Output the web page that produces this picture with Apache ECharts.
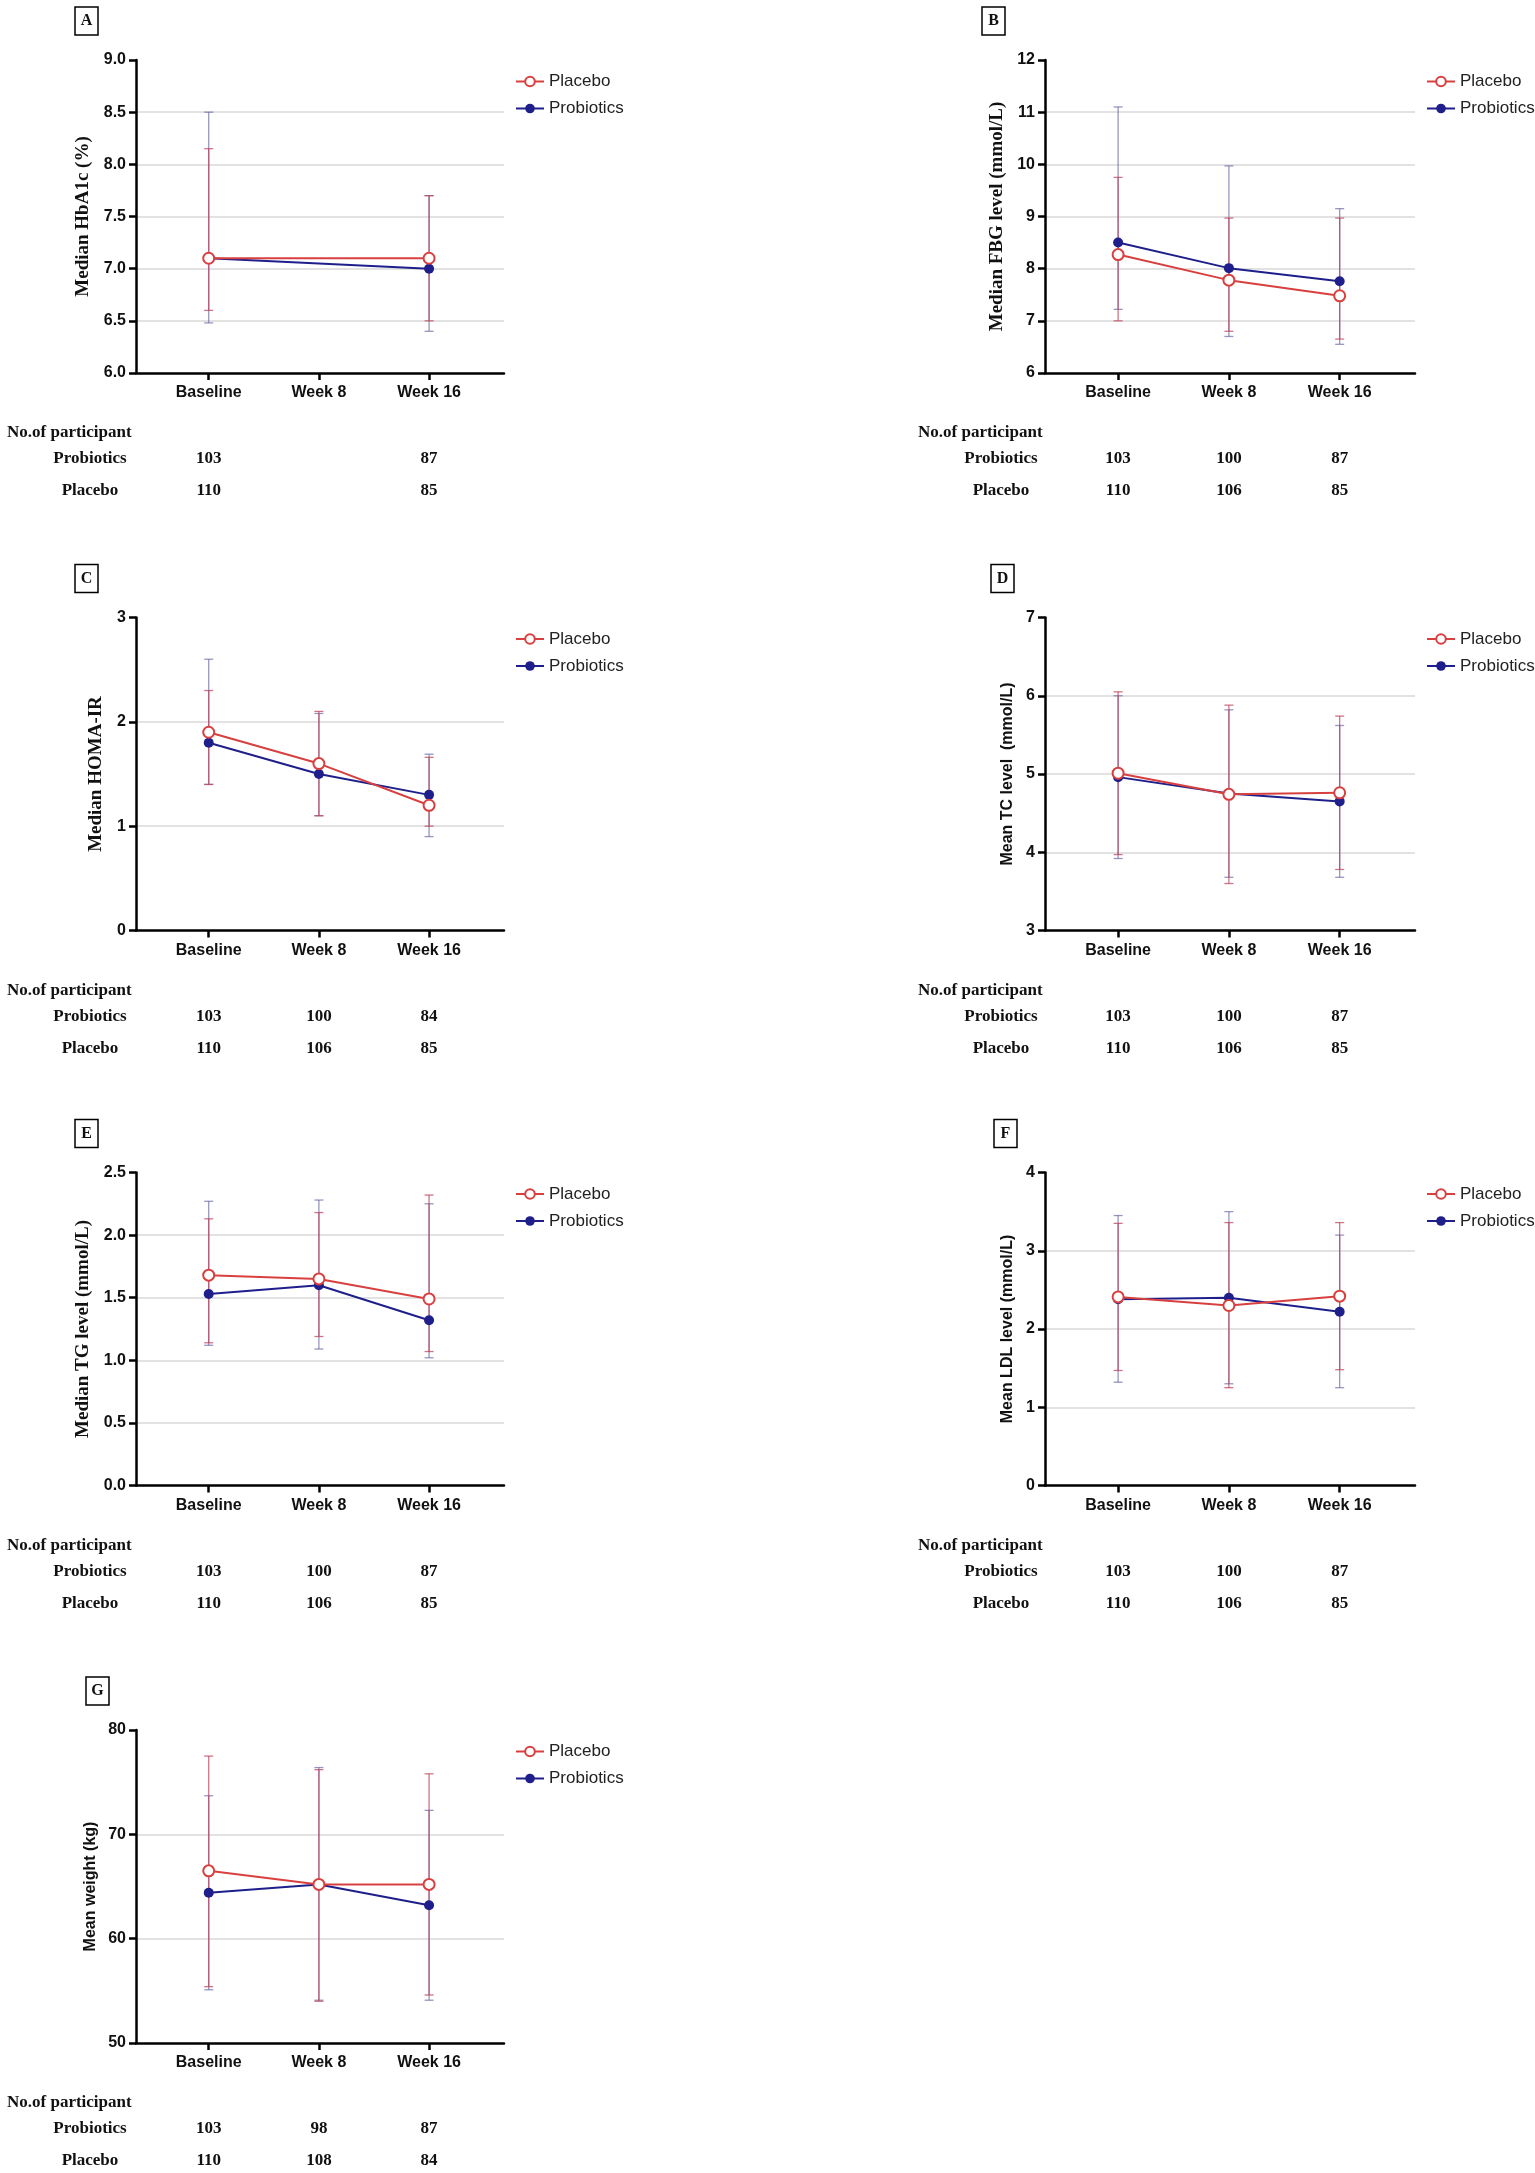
<!DOCTYPE html>
<html><head><meta charset="utf-8">
<script src="https://cdn.jsdelivr.net/npm/echarts@6/dist/echarts.min.js"></script>
<style>html,body{margin:0;padding:0;background:#fff}#c{width:1535px;height:2173px}</style>
</head><body><div id="c"></div>
<script>
// ---------- DATA ----------
const categories = ['Baseline', 'Week 8', 'Week 16'];
const groupNames = ['Placebo', 'Probiotics'];
const panelLetters = ['A', 'B', 'C', 'D', 'E', 'F', 'G'];
const yTitles = ['Median HbA1c (%)', 'Median FBG level (mmol/L)', 'Median HOMA-IR', 'Mean TC level  (mmol/L)',
  'Median TG level (mmol/L)', 'Mean LDL level (mmol/L)', 'Mean weight (kg)'];
const yMins = [6, 6, 0, 3, 0, 0, 50];
const yMaxs = [9, 12, 3, 7, 2.5, 4, 80];
const yIntervals = [0.5, 1, 1, 1, 0.5, 1, 10];
const yDecimals = [1, 0, 0, 0, 1, 0, 0];

// A: HbA1c
const hba1cPlacebo = [7.1, null, 7.1];
const hba1cProbiotics = [7.1, null, 7.0];
const hba1cPlaceboLow = [6.6, null, 6.5];
const hba1cPlaceboHigh = [8.15, null, 7.7];
const hba1cProbioticsLow = [6.48, null, 6.4];
const hba1cProbioticsHigh = [8.5, null, 7.7];
const hba1cNProbiotics = [103, null, 87];
const hba1cNPlacebo = [110, null, 85];
// B: FBG
const fbgPlacebo = [8.27, 7.78, 7.48];
const fbgProbiotics = [8.5, 8.01, 7.76];
const fbgPlaceboLow = [7.0, 6.8, 6.65];
const fbgPlaceboHigh = [9.75, 8.97, 8.97];
const fbgProbioticsLow = [7.22, 6.7, 6.55];
const fbgProbioticsHigh = [11.1, 9.97, 9.15];
const fbgNProbiotics = [103, 100, 87];
const fbgNPlacebo = [110, 106, 85];
// C: HOMA-IR
const homaPlacebo = [1.9, 1.6, 1.2];
const homaProbiotics = [1.8, 1.5, 1.3];
const homaPlaceboLow = [1.4, 1.1, 1.0];
const homaPlaceboHigh = [2.3, 2.1, 1.66];
const homaProbioticsLow = [1.4, 1.1, 0.9];
const homaProbioticsHigh = [2.6, 2.08, 1.69];
const homaNProbiotics = [103, 100, 84];
const homaNPlacebo = [110, 106, 85];
// D: TC
const tcPlacebo = [5.01, 4.74, 4.76];
const tcProbiotics = [4.96, 4.75, 4.65];
const tcPlaceboLow = [3.97, 3.60, 3.78];
const tcPlaceboHigh = [6.05, 5.88, 5.74];
const tcProbioticsLow = [3.92, 3.68, 3.68];
const tcProbioticsHigh = [6.0, 5.82, 5.62];
const tcNProbiotics = [103, 100, 87];
const tcNPlacebo = [110, 106, 85];
// E: TG
const tgPlacebo = [1.68, 1.65, 1.49];
const tgProbiotics = [1.53, 1.60, 1.32];
const tgPlaceboLow = [1.14, 1.19, 1.07];
const tgPlaceboHigh = [2.13, 2.18, 2.32];
const tgProbioticsLow = [1.12, 1.09, 1.02];
const tgProbioticsHigh = [2.27, 2.28, 2.25];
const tgNProbiotics = [103, 100, 87];
const tgNPlacebo = [110, 106, 85];
// F: LDL
const ldlPlacebo = [2.41, 2.30, 2.42];
const ldlProbiotics = [2.38, 2.40, 2.22];
const ldlPlaceboLow = [1.47, 1.25, 1.48];
const ldlPlaceboHigh = [3.35, 3.36, 3.36];
const ldlProbioticsLow = [1.32, 1.30, 1.25];
const ldlProbioticsHigh = [3.45, 3.50, 3.20];
const ldlNProbiotics = [103, 100, 87];
const ldlNPlacebo = [110, 106, 85];
// G: weight
const weightPlacebo = [66.5, 65.2, 65.2];
const weightProbiotics = [64.4, 65.2, 63.2];
const weightPlaceboLow = [55.4, 54.0, 54.6];
const weightPlaceboHigh = [77.5, 76.2, 75.8];
const weightProbioticsLow = [55.1, 54.1, 54.1];
const weightProbioticsHigh = [73.7, 76.4, 72.3];
const weightNProbiotics = [103, 98, 87];
const weightNPlacebo = [110, 108, 84];

const panelPlacebo = [hba1cPlacebo, fbgPlacebo, homaPlacebo, tcPlacebo, tgPlacebo, ldlPlacebo, weightPlacebo];
const panelProbiotics = [hba1cProbiotics, fbgProbiotics, homaProbiotics, tcProbiotics, tgProbiotics, ldlProbiotics, weightProbiotics];
const panelPlaceboLow = [hba1cPlaceboLow, fbgPlaceboLow, homaPlaceboLow, tcPlaceboLow, tgPlaceboLow, ldlPlaceboLow, weightPlaceboLow];
const panelPlaceboHigh = [hba1cPlaceboHigh, fbgPlaceboHigh, homaPlaceboHigh, tcPlaceboHigh, tgPlaceboHigh, ldlPlaceboHigh, weightPlaceboHigh];
const panelProbioticsLow = [hba1cProbioticsLow, fbgProbioticsLow, homaProbioticsLow, tcProbioticsLow, tgProbioticsLow, ldlProbioticsLow, weightProbioticsLow];
const panelProbioticsHigh = [hba1cProbioticsHigh, fbgProbioticsHigh, homaProbioticsHigh, tcProbioticsHigh, tgProbioticsHigh, ldlProbioticsHigh, weightProbioticsHigh];
const panelNProbiotics = [hba1cNProbiotics, fbgNProbiotics, homaNProbiotics, tcNProbiotics, tgNProbiotics, ldlNProbiotics, weightNProbiotics];
const panelNPlacebo = [hba1cNPlacebo, fbgNPlacebo, homaNPlacebo, tcNPlacebo, tgNPlacebo, ldlNPlacebo, weightNPlacebo];

// ---------- LAYOUT / STYLE ----------
const panelCol = [0, 1, 0, 1, 0, 1, 0];
const panelRow = [0, 0, 1, 1, 2, 2, 3];
const colLeft = [136, 1045];
const colWidth = [368, 370];
const rowTop = [60, 617.5, 1172.5, 1730];
const gridH = 313;
const titleSerif = [true, true, true, false, true, false, false];
const titleGap = [43, 38, 30, 29, 43, 29, 37];
const letterBoxX = [75, 982, 75, 991, 75, 994, 86];
const legendLeft = [510, 1421];
const tableLabelLeft = [7, 918];
const tableLabelCenter = [90, 1001];

const RED = '#d8403f';
const NAVY = '#1f1f8c';
const RED_ERR = 'rgba(190,70,95,0.75)';
const BLUE_ERR = 'rgba(105,105,165,0.7)';
const SERIF = '"Liberation Serif", "Times New Roman", serif';
const SANS = '"Liberation Sans", Arial, sans-serif';

function pts(arr) {
  const out = [];
  arr.forEach((v, i) => { if (v !== null) out.push([i, v]); });
  return out;
}
function errPts(lo, hi) {
  const out = [];
  lo.forEach((v, i) => { if (v !== null && hi[i] !== null) out.push([i, v, hi[i]]); });
  return out;
}
function errRender(color) {
  return function (params, api) {
    const x = api.value(0);
    const a = api.coord([x, api.value(1)]);
    const b = api.coord([x, api.value(2)]);
    const w = 4.5;
    const st = { stroke: color, lineWidth: 1.3 };
    return {
      type: 'group', children: [
        { type: 'line', shape: { x1: a[0], y1: a[1], x2: b[0], y2: b[1] }, style: st },
        { type: 'line', shape: { x1: a[0] - w, y1: a[1], x2: a[0] + w, y2: a[1] }, style: st },
        { type: 'line', shape: { x1: b[0] - w, y1: b[1], x2: b[0] + w, y2: b[1] }, style: st }
      ]
    };
  };
}
function countRender(yMin) {
  return function (params, api) {
    const p = api.coord([api.value(0), yMin]);
    const off = api.value(1) === 0 ? 86 : 118;
    return {
      type: 'text', x: p[0], y: p[1] + off,
      style: { text: String(api.value(2)), textAlign: 'center', textVerticalAlign: 'middle',
        font: 'bold 17px ' + SERIF, fill: '#111' }
    };
  };
}

const grids = [], xAxes = [], yAxes = [], series = [], legends = [], graphics = [];
for (let i = 0; i < 7; i++) {
  const c = panelCol[i], r = panelRow[i];
  const top = rowTop[r];
  grids.push({ left: colLeft[c], top: top, width: colWidth[c], height: gridH });
  xAxes.push({
    gridIndex: i, type: 'value', min: -0.66, max: 2.68,
    axisLine: { show: true, onZero: false, lineStyle: { color: '#000', width: 2.5 } },
    axisTick: { show: true, customValues: [0, 1, 2], length: 7, lineStyle: { color: '#000', width: 2.5 } },
    axisLabel: { customValues: [0, 1, 2], formatter: v => categories[Math.round(v)], margin: 12,
      fontFamily: SANS, fontWeight: 'bold', fontSize: 16, color: '#111' },
    splitLine: { show: false }
  });
  const dec = yDecimals[i];
  yAxes.push({
    gridIndex: i, type: 'value', min: yMins[i], max: yMaxs[i], interval: yIntervals[i],
    axisLine: { show: true, onZero: false, lineStyle: { color: '#000', width: 2.5 } },
    axisTick: { show: true, length: 7, lineStyle: { color: '#000', width: 2.5 } },
    axisLabel: { formatter: v => v.toFixed(dec), margin: 10, fontFamily: SANS, fontWeight: 'bold', fontSize: 16, color: '#111' },
    splitLine: { show: true, showMinLine: false, showMaxLine: false, lineStyle: { color: '#d9d9d9', width: 1.6 } },
    name: yTitles[i], nameLocation: 'middle', nameRotate: 90, nameGap: titleGap[i],
    nameTextStyle: titleSerif[i]
      ? { fontFamily: SERIF, fontWeight: 'bold', fontSize: 19, color: '#111' }
      : { fontFamily: SANS, fontWeight: 'bold', fontSize: 16, color: '#111' }
  });
  // error bars
  series.push({
    type: 'custom', xAxisIndex: i, yAxisIndex: i, z: 2,
    data: errPts(panelProbioticsLow[i], panelProbioticsHigh[i]), encode: { x: 0, y: [1, 2] },
    renderItem: errRender(BLUE_ERR), silent: true
  });
  series.push({
    type: 'custom', xAxisIndex: i, yAxisIndex: i, z: 3,
    data: errPts(panelPlaceboLow[i], panelPlaceboHigh[i]), encode: { x: 0, y: [1, 2] },
    renderItem: errRender(RED_ERR), silent: true
  });
  // lines
  series.push({
    type: 'line', name: groupNames[1], xAxisIndex: i, yAxisIndex: i, z: 4,
    data: pts(panelProbiotics[i]), symbol: 'circle', symbolSize: 10,
    lineStyle: { color: NAVY, width: 2 }, itemStyle: { color: NAVY }, animation: false
  });
  series.push({
    type: 'line', name: groupNames[0], xAxisIndex: i, yAxisIndex: i, z: 5,
    data: pts(panelPlacebo[i]), symbol: 'emptyCircle', symbolSize: 11,
    lineStyle: { color: RED, width: 2 }, itemStyle: { color: RED, borderColor: RED, borderWidth: 2 }, animation: false
  });
  // participant counts
  const cnt = [];
  panelNProbiotics[i].forEach((v, k) => { if (v !== null) cnt.push([k, 0, v]); });
  panelNPlacebo[i].forEach((v, k) => { if (v !== null) cnt.push([k, 1, v]); });
  series.push({
    type: 'custom', xAxisIndex: i, yAxisIndex: i, data: cnt, clip: false, silent: true,
    encode: { x: 0 }, renderItem: countRender(yMins[i])
  });
  legends.push({
    data: [groupNames[0], groupNames[1]],
    orient: 'vertical', left: legendLeft[c], top: top + 8,
    itemWidth: 28, itemHeight: 12, itemGap: 10, selectedMode: false,
    textStyle: { fontFamily: SANS, fontSize: 17, color: '#222' }
  });
  // panel letter box
  graphics.push({
    type: 'rect', shape: { x: letterBoxX[i], y: top - 53, width: 23, height: 28 },
    style: { fill: '#fff', stroke: '#000', lineWidth: 1.5 }
  });
  graphics.push({
    type: 'text', x: letterBoxX[i] + 11.5, y: top - 39,
    style: { text: panelLetters[i], textAlign: 'center', textVerticalAlign: 'middle', font: 'bold 16px ' + SERIF, fill: '#111' }
  });
  // table row labels
  const gb = top + gridH;
  graphics.push({
    type: 'text', x: tableLabelLeft[c], y: gb + 60,
    style: { text: 'No.of participant', textAlign: 'left', textVerticalAlign: 'middle', font: 'bold 17px ' + SERIF, fill: '#111' }
  });
  graphics.push({
    type: 'text', x: tableLabelCenter[c], y: gb + 86,
    style: { text: 'Probiotics', textAlign: 'center', textVerticalAlign: 'middle', font: 'bold 17px ' + SERIF, fill: '#111' }
  });
  graphics.push({
    type: 'text', x: tableLabelCenter[c], y: gb + 118,
    style: { text: 'Placebo', textAlign: 'center', textVerticalAlign: 'middle', font: 'bold 17px ' + SERIF, fill: '#111' }
  });
}

const chart = echarts.init(document.getElementById('c'), null, { renderer: 'canvas' });
chart.setOption({
  backgroundColor: '#fff',
  animation: false,
  grid: grids, xAxis: xAxes, yAxis: yAxes, series: series, legend: legends,
  graphic: { elements: graphics }
});
</script></body></html>
